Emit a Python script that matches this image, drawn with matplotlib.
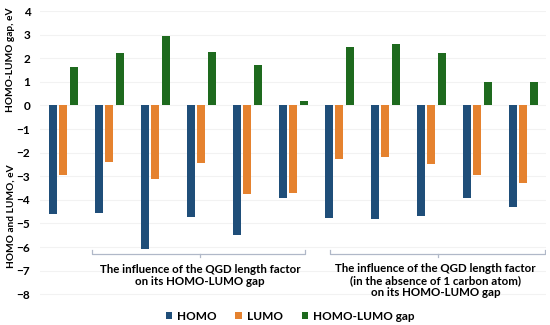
import numpy as np
import matplotlib
matplotlib.use("Agg")
import matplotlib.pyplot as plt

# valores (eV)
homo = [-4.60, -4.58, -6.07, -4.74, -5.48, -3.91, -4.75, -4.82, -4.68, -3.94, -4.30]
lumo = [-2.95, -2.38, -3.12, -2.45, -3.77, -3.70, -2.27, -2.18, -2.47, -2.95, -3.30]
gap = [1.62, 2.22, 2.95, 2.28, 1.70, 0.20, 2.48, 2.62, 2.21, 1.00, 1.00]
yticks = list(range(-8, 5))

c_homo = '#1f4e79'
c_lumo = '#e5822f'
c_gap = '#1e6a1e'

plt.rcParams['font.family'] = ['Lato', 'DejaVu Sans']
plt.rcParams['font.weight'] = 'bold'

fig = plt.figure(figsize=(5.5, 3.25), dpi=100)
ax = fig.add_axes([40 / 550, 1 - 317.8 / 325, 506 / 550, 306.8 / 325])

x = np.arange(len(homo))
w = 0.174
ax.bar(x - 0.225, homo, w, color=c_homo, label='HOMO', zorder=3)
ax.bar(x, lumo, w, color=c_lumo, label='LUMO', zorder=3)
ax.bar(x + 0.23, gap, w, color=c_gap, label='HOMO-LUMO gap', zorder=3)

ax.set_xlim(-0.5, 10.5)
ax.set_ylim(-9, 4)
ax.set_yticks(yticks)
ax.set_yticklabels([str(t).replace('-', '\u2212') for t in yticks], fontsize=8.5, fontweight='bold')
ax.set_xticks([])
ax.tick_params(axis='y', length=0, pad=7)
for s in ax.spines.values():
    s.set_visible(False)
ax.grid(axis='y', color='#f2f2f2', linewidth=0.8, zorder=0)

# etiquetas de los ejes
fig.text(11 / 550, 1 - 60 / 325, 'HOMO-LUMO gap, eV', rotation=90, ha='center', va='center',
         fontsize=7.3, fontweight='bold')
fig.text(11 / 550, 1 - 216 / 325, 'HOMO and LUMO, eV', rotation=90, ha='center', va='center',
         fontsize=7.3, fontweight='bold')

# llaves de agrupacion
def llave(x0, x1, xm, y):
    ax.plot([x0, x0, x1, x1], [y + 0.15, y, y, y + 0.15], color='#b0b8c8', lw=0.9, zorder=2)
    ax.plot([xm, xm], [y, y - 0.15], color='#b0b8c8', lw=0.9, zorder=2)

llave(0.63, 5.26, 2.98, -6.28)
llave(5.80, 10.48, 8.15, -6.28)

ax.text(2.98, -7.2, 'The influence of the QGD length factor\non its HOMO-LUMO gap',
        ha='center', va='center', fontsize=8.3, fontweight='bold', linespacing=1.15)
ax.text(8.1, -7.42, 'The influence of the QGD length factor\n(in the absence of 1 carbon atom)\non its HOMO-LUMO gap',
        ha='center', va='center', fontsize=8.3, fontweight='bold', linespacing=1.15)

fig.legend(loc='center', bbox_to_anchor=(290 / 550, 1 - 316 / 325), ncol=3, frameon=False,
           fontsize=8.5, handlelength=0.55, handleheight=0.55, columnspacing=1.6, handletextpad=0.4)

plt.savefig('out.png', dpi=100)
